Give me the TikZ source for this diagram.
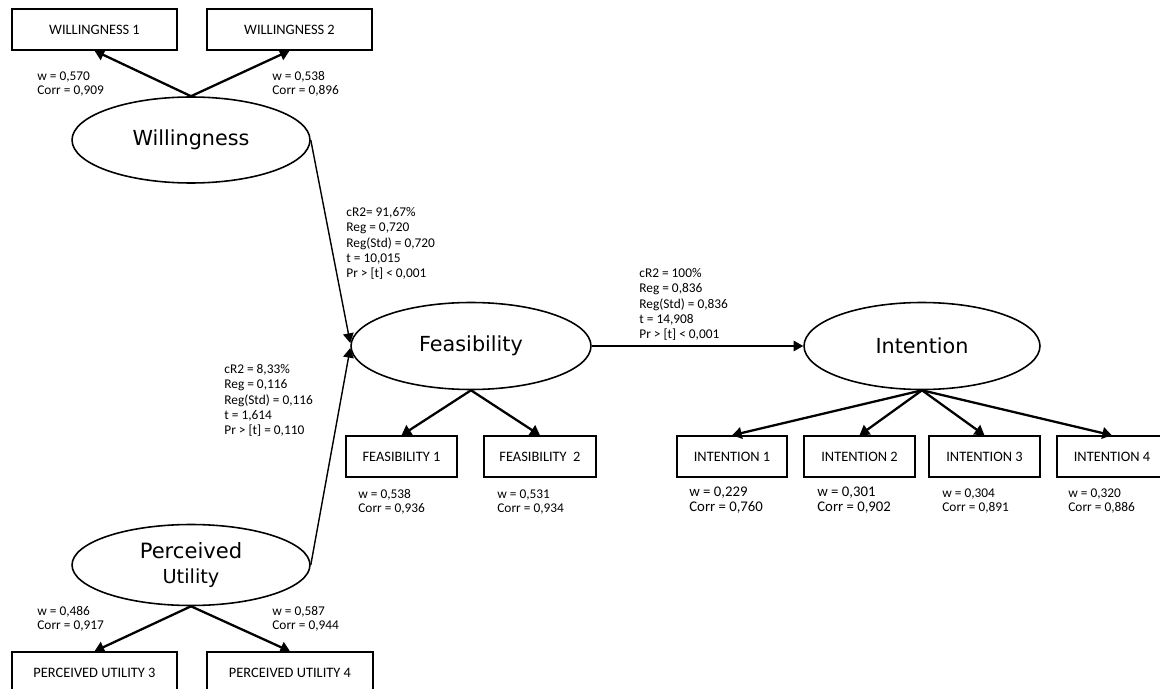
\documentclass[tikz,border=0pt]{standalone}
\usepackage{fontspec}
\setmainfont{Carlito}
\newfontfamily\latfont{DejaVu Sans}
\usepackage{tikz}
\usetikzlibrary{arrows.meta, shapes.geometric, positioning, calc}

\tikzset{
  latent/.style={ellipse, draw, line width=0.9pt, inner sep=0pt,
    font=\latfont\fontsize{11.8}{14}\selectfont},
  indicator/.style={rectangle, draw, line width=0.8pt, inner sep=0pt,
    minimum height=0.82cm, font=\fontsize{8.2}{10}\selectfont},
  stats/.style={anchor=north west, inner sep=0pt, align=left,
    font=\fontsize{7.6}{8}\selectfont},
  pathstats/.style={anchor=north west, inner sep=0pt, align=left,
    font=\fontsize{7.6}{8.7}\selectfont},
  loading/.style={-{Triangle[length=5.5pt, width=6.5pt]}, line width=1.3pt},
  regpath/.style={-{Triangle[length=5.5pt, width=6pt]}, line width=0.8pt}
}

\begin{document}
\begin{tikzpicture}[x=0.02cm, y=-0.02cm]
        \useasboundingbox (0,0) rectangle (1160,689);

        % Willingness block
        \node[latent, minimum width=4.76cm, minimum height=1.72cm]
          (will) at (191,140) {Willingness};
        \node[indicator, minimum width=3.3cm] (will1) at (94.5,29.5)
          {WILLINGNESS 1};
        \node[indicator, minimum width=3.3cm] (will2) at (289.5,29.5)
          {WILLINGNESS 2};
        \draw[loading] (will.north) -- (will1.south);
        \draw[loading] (will.north) -- (will2.south);
        \node[stats] (sw1) at (37,71) {w = 0,570\\Corr = 0,909};
        \node[stats] (sw2) at (272,71) {w = 0,538\\Corr = 0,896};

        % Perceived utility block
        \node[latent, minimum width=4.76cm, minimum height=1.62cm, align=center]
          (pu) at (191,565)
          {\fontsize{12}{16}\selectfont Perceived\\\fontsize{11}{16}\selectfont Utility};
        \node[indicator, minimum width=3.3cm] (pu3) at (94.5,672.5)
          {PERCEIVED UTILITY 3};
        \node[indicator, minimum width=3.32cm] (pu4) at (290,672.5)
          {PERCEIVED UTILITY 4};
        \draw[loading] (pu.south) -- (pu3.north);
        \draw[loading] (pu.south) -- (pu4.north);
        \node[stats] (spu3) at (37,606) {w = 0,486\\Corr = 0,917};
        \node[stats] (spu4) at (272,606) {w = 0,587\\Corr = 0,944};

        % Feasibility block
        \node[latent, minimum width=4.8cm, minimum height=1.74cm]
          (feas) at (471,346) {Feasibility};
        \node[indicator, minimum width=2.22cm] (feas1) at (401.5,456.5)
          {FEASIBILITY 1};
        \node[indicator, minimum width=2.24cm] (feas2) at (540,456.5)
          {FEASIBILITY\ \ 2};
        \draw[loading] (feas.south) -- (feas1.north);
        \draw[loading] (feas.south) -- (feas2.north);
        \node[stats] (sf1) at (358,489) {w = 0,538\\Corr = 0,936};
        \node[stats] (sf2) at (497,489) {w = 0,531\\Corr = 0,934};

        % Intention block
        \node[latent, minimum width=4.72cm, minimum height=1.74cm]
          (int) at (922,346) {Intention};
        \node[indicator, minimum width=2.2cm] (int1) at (732,456.5)
          {INTENTION 1};
        \node[indicator, minimum width=2.22cm] (int2) at (859.5,456.5)
          {INTENTION 2};
        \node[indicator, minimum width=2.22cm] (int3) at (984.5,456.5)
          {INTENTION 3};
        \node[indicator, minimum width=2.2cm] (int4) at (1112,456.5)
          {INTENTION 4};
        \foreach \i in {1,...,4}
          \draw[loading] (int.south) -- (int\i.north);
        \node[stats, font=\fontsize{8.4}{8.2}\selectfont] (si1) at (689,487)
          {w = 0,229\\Corr = 0,760};
        \node[stats, font=\fontsize{8.4}{8.2}\selectfont] (si2) at (817,487)
          {w = 0,301\\Corr = 0,902};
        \node[stats] (si3) at (942,488) {w = 0,304\\Corr = 0,891};
        \node[stats] (si4) at (1068,488) {w = 0,320\\Corr = 0,886};

        % Structural paths
        \draw[regpath] (will.east) -- ($(feas.west)+(0,-3)$);
        \draw[regpath] (pu.east) -- ($(feas.west)+(0,2)$);
        \draw[regpath] (feas.east) -- (int.west);
        \node[pathstats] (pw) at (346,207)
          {cR2= 91,67\%\\Reg = 0,720\\Reg(Std) = 0,720\\t = 10,015\\Pr > [t] < 0,001};
        \node[pathstats] (ppu) at (224,364)
          {cR2 = 8,33\%\\Reg = 0,116\\Reg(Std) = 0,116\\t = 1,614\\Pr > [t] = 0,110};
        \node[pathstats] (pfi) at (639,268)
          {cR2 = 100\%\\Reg = 0,836\\Reg(Std) = 0,836\\t = 14,908\\Pr > [t] < 0,001};
      \end{tikzpicture}
\end{document}
